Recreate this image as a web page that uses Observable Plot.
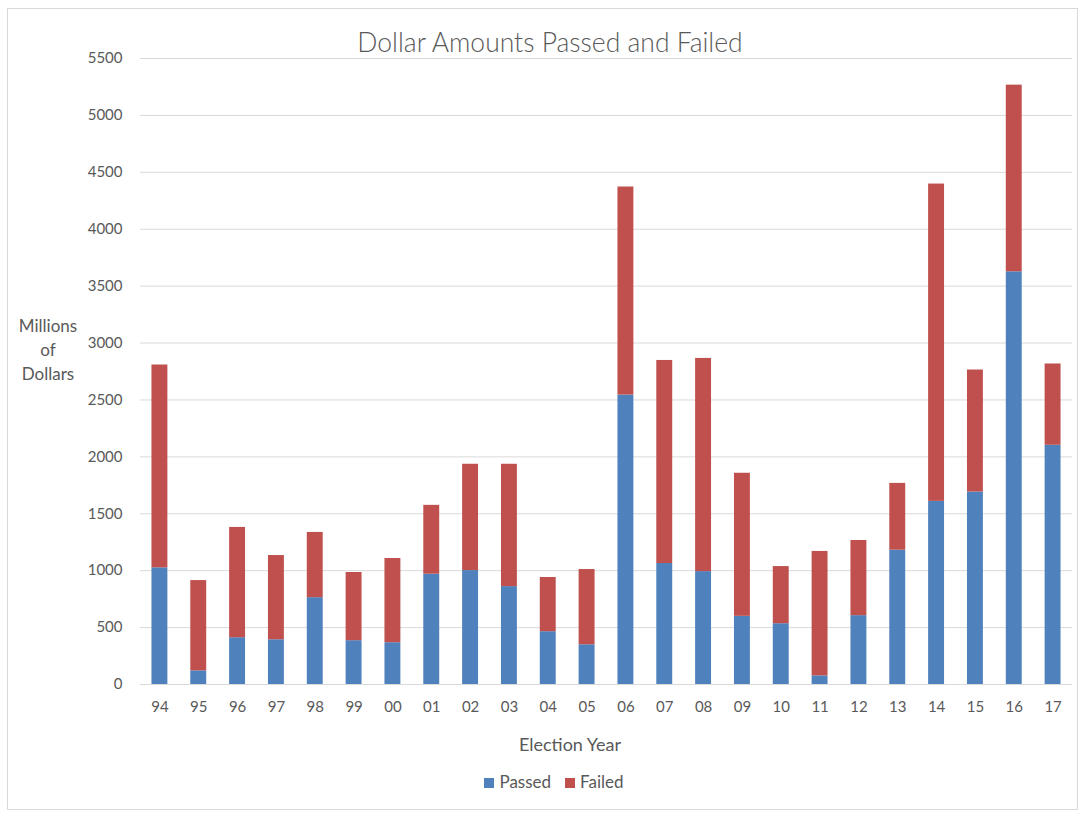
<!DOCTYPE html>
<html>
<head>
<meta charset="utf-8">
<script src="https://cdn.jsdelivr.net/npm/d3@7"></script>
<script src="https://cdn.jsdelivr.net/npm/@observablehq/plot@0.6"></script>
<style>
  html, body { margin: 0; padding: 0; background: #fff; }
  body { width: 1085px; height: 815px; position: relative; overflow: hidden; font-family: Lato, "Open Sans", sans-serif; color: #595959; }
  #frame { position: absolute; left: 7px; top: 8px; width: 1071px; height: 802px; border: 1px solid #d9d9d9; box-sizing: border-box; }
  #chart { position: absolute; left: 0; top: 0; }
  .txt { position: absolute; white-space: nowrap; }
  #title { left: 0; width: 1100px; top: 26px; text-align: center; font-size: 26.5px; font-weight: 300; }
  #ylab { left: 0; width: 96px; top: 314px; text-align: center; font-size: 17px; line-height: 24px; }
  #xlab { left: 370px; width: 400px; top: 733px; text-align: center; font-size: 18px; }
  #legend { left: 354px; width: 400px; top: 771px; text-align: center; font-size: 17px; }
  .sw { display: inline-block; width: 10px; height: 10px; margin-right: 5px; vertical-align: 0px; }
  .item { margin: 0 7px; }
</style>
</head>
<body>
<div id="frame"></div>
<div id="chart"></div>
<div class="txt" id="title">Dollar Amounts Passed and Failed</div>
<div class="txt" id="ylab">Millions<br>of<br>Dollars</div>
<div class="txt" id="xlab">Election Year</div>
<div class="txt" id="legend"></div>
<script>
const years = ["94","95","96","97","98","99","00","01","02","03","04","05","06","07","08","09","10","11","12","13","14","15","16","17"];
const passed = [1025,120,411,393,763,385,367,969,1001,860,464,349,2543,1063,992,599,534,76,605,1180,1609,1691,3626,2102];
const totals = [2807,913,1380,1133,1336,984,1107,1574,1935,1935,940,1010,4371,2847,2865,1856,1036,1169,1265,1767,4397,2763,5266,2816];
const series = ["Passed","Failed"];
const colors = ["#4F81BD","#C0504D"];
const yTicks = d3.range(0, 5501, 500);

const data = [];
years.forEach((yr, i) => {
  data.push({year: yr, series: "Passed", value: passed[i]});
  data.push({year: yr, series: "Failed", value: totals[i] - passed[i]});
});

const chart = Plot.plot({
  width: 1085,
  height: 815,
  marginLeft: 140,
  marginRight: 13,
  marginTop: 58,
  marginBottom: 131,
  style: {fontFamily: "Lato, 'Open Sans', sans-serif", fontSize: "15px", color: "#595959", background: "transparent"},
  x: {domain: years, paddingInner: 0.59, paddingOuter: 0.295, round: false, label: null},
  y: {domain: [0, 5500], label: null},
  color: {domain: series, range: colors},
  marks: [
    Plot.gridY(yTicks, {stroke: "#d9d9d9", strokeOpacity: 1, strokeWidth: 1}),
    Plot.barY(data, {x: "year", y: "value", fill: "series", order: series}),
    Plot.axisY(yTicks, {tickSize: 0, tickPadding: 18, label: null, tickFormat: d => String(d)}),
    Plot.axisX({tickSize: 0, tickPadding: 17, label: null})
  ]
});
document.getElementById("chart").appendChild(chart);

const legend = document.getElementById("legend");
series.forEach((s, i) => {
  const span = document.createElement("span");
  span.className = "item";
  span.innerHTML = `<span class="sw" style="background:${colors[i]}"></span>${s}`;
  legend.appendChild(span);
});
</script>
</body>
</html>
